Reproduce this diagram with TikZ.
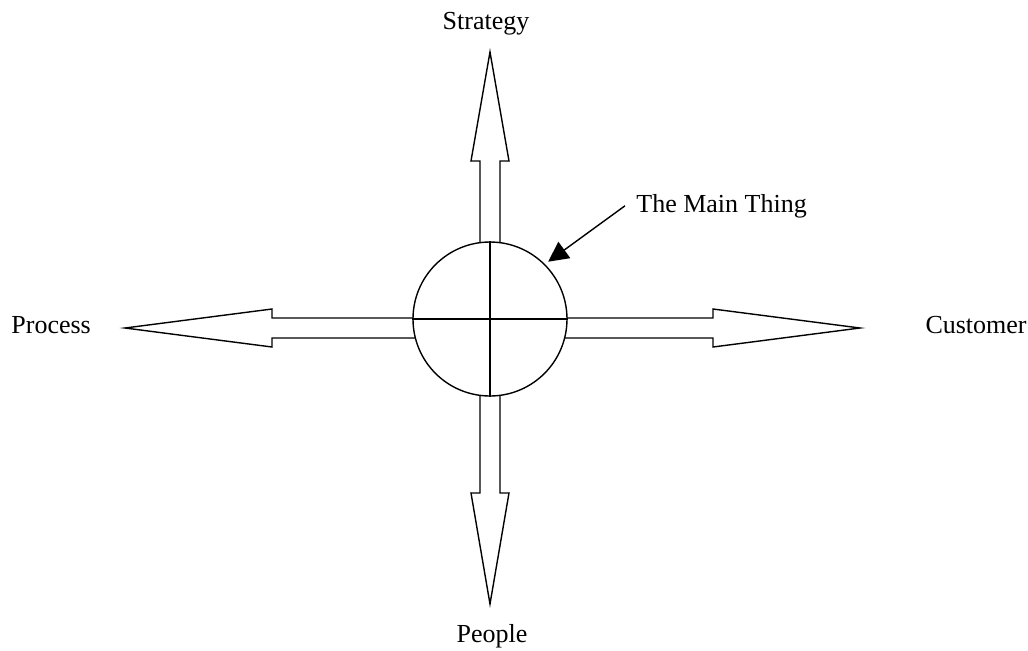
\documentclass[tikz,border=0pt]{standalone}
\usepackage{fontspec}
\setmainfont{Liberation Serif}
\usetikzlibrary{arrows.meta,positioning,backgrounds}
\tikzset{
  hubc/.style={draw, circle, line width=.7pt, fill=white, minimum size=77pt, inner sep=0pt},
  bar/.style={draw, line width=.7pt, fill=white, line join=miter},
  ptr/.style={-{Triangle[length=10pt,width=10pt]}, line width=.7pt},
  lbl/.style={font=\fontsize{13}{15}\selectfont, inner sep=0pt},
}
\begin{document}
\begin{tikzpicture}[x=.5pt, y=.5pt]
    \useasboundingbox (-490,-331) rectangle (538,319);
    \node[hubc] (hub) at (0,0) {};
    \draw[line width=.7pt] (hub.west) -- (hub.east);
    \draw[line width=.7pt] (hub.north) -- (hub.south);
    \begin{scope}[on background layer]
      \foreach \ang/\len/\hd/\dy in {90/267/109/0, -90/285/111/0, 180/365/147/-9, 0/370/147/-9}{
        \draw[bar, shift={(0,\dy)}, rotate=\ang] (0,-10) -- (\len-\hd,-10) -- (\len-\hd,-19) -- (\len,0)
          -- (\len-\hd,19) -- (\len-\hd,10) -- (0,10) -- cycle;
      }
    \end{scope}
    \node[lbl, anchor=base] (strat) at (-4,290) {Strategy};
    \node[lbl, anchor=base] (ppl) at (2,-323) {People};
    \node[lbl, anchor=base west] (proc) at (-479,-14) {Process};
    \node[lbl, anchor=base east] (cust) at (537,-14) {Customer};
    \node[lbl, anchor=base west, inner xsep=5.5pt] (thing) at (135,107) {The Main Thing};
    \draw[ptr, shorten >=2pt] (thing.west) -- (hub.45);
  \end{tikzpicture}
\end{document}
